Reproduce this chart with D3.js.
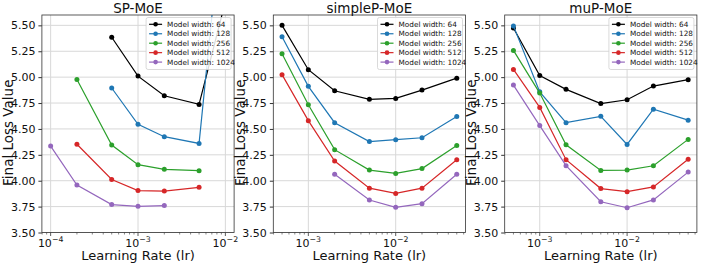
<!DOCTYPE html>
<html>
<head>
<meta charset="utf-8">
<script src="https://cdn.jsdelivr.net/npm/d3@7"></script>
<style>
  body { margin: 0; background: #fff; }
  text { font-family: "DejaVu Sans", sans-serif; }
</style>
</head>
<body>
<script>
const width = 718;
const height = 264;

// data
const widthLabels = ["Model width: 64", "Model width: 128", "Model width: 256", "Model width: 512", "Model width: 1024"];
const colors = ["#000000", "#1f77b4", "#2ca02c", "#d62728", "#9467bd"];
const titles = ["SP-MoE", "simpleP-MoE", "muP-MoE"];
const yTicks = [3.5, 3.75, 4.0, 4.25, 4.5, 4.75, 5.0, 5.25, 5.5];

// SP-MoE
const spLr64 = [5e-4, 1e-3, 2e-3, 5e-3, 1e-2];
const spLr256 = [2e-4, 5e-4, 1e-3, 2e-3, 5e-3];
const spLr1024 = [1e-4, 2e-4, 5e-4, 1e-3, 2e-3];
const sp64 = [5.385, 5.01, 4.82, 4.737, 5.73];
const sp128 = [4.895, 4.545, 4.425, 4.36, 6.88];
const sp256 = [4.978, 4.345, 4.155, 4.11, 4.097];
const sp512 = [4.352, 4.012, 3.905, 3.9, 3.936];
const sp1024 = [4.334, 3.958, 3.77, 3.753, 3.76];

// simpleP-MoE / muP-MoE share the learning rates
const lrFull = [5e-4, 1e-3, 2e-3, 5e-3, 1e-2, 2e-2, 5e-2];
const lrFrom2e3 = [2e-3, 5e-3, 1e-2, 2e-2, 5e-2];
const simple64 = [5.50, 5.072, 4.869, 4.786, 4.795, 4.875, 4.99];
const simple128 = [5.39, 4.911, 4.56, 4.378, 4.396, 4.415, 4.621];
const simple256 = [5.226, 4.734, 4.30, 4.103, 4.07, 4.117, 4.341];
const simple512 = [5.024, 4.58, 4.19, 3.928, 3.877, 3.928, 4.202];
const simple1024 = [4.062, 3.814, 3.743, 3.778, 4.062];

const mup64 = [5.474, 5.015, 4.882, 4.745, 4.782, 4.914, 4.976];
const mup128 = [5.495, 4.858, 4.56, 4.622, 4.35, 4.69, 4.585];
const mup256 = [5.258, 4.846, 4.347, 4.099, 4.103, 4.144, 4.399];
const mup512 = [5.075, 4.708, 4.203, 3.924, 3.894, 3.94, 4.208];
const mup1024 = [4.923, 4.532, 4.145, 3.797, 3.739, 3.815, 4.083];

function zipSeries(xs, ys) { return xs.map((x, i) => ({ x: x, y: ys[i] })); }

const panels = [
  { title: titles[0], xDomain: [1e-4, 1e-2], decades: [-4, -3, -2],
    series: [zipSeries(spLr64, sp64), zipSeries(spLr64, sp128), zipSeries(spLr256, sp256),
             zipSeries(spLr256, sp512), zipSeries(spLr1024, sp1024)] },
  { title: titles[1], xDomain: [5e-4, 5e-2], decades: [-3, -2],
    series: [zipSeries(lrFull, simple64), zipSeries(lrFull, simple128), zipSeries(lrFull, simple256),
             zipSeries(lrFull, simple512), zipSeries(lrFrom2e3, simple1024)] },
  { title: titles[2], xDomain: [5e-4, 5e-2], decades: [-3, -2],
    series: [zipSeries(lrFull, mup64), zipSeries(lrFull, mup128), zipSeries(lrFull, mup256),
             zipSeries(lrFull, mup512), zipSeries(lrFull, mup1024)] }
];

const plotTop = 15;
const plotBottom = 232.5;
const plotWidth = 192.2;
const firstLeft = 41.9;
const step = 231.4;

let svg = d3.select("body").append("svg")
    .attr("width", width)
    .attr("height", height);

panels.forEach((p, pi) => {
    const left = firstLeft + pi * step;
    const right = left + plotWidth;

    // 5% log margin like matplotlib
    const l0 = Math.log10(p.xDomain[0]), l1 = Math.log10(p.xDomain[1]);
    const pad = (l1 - l0) * 0.05;
    let xScale = d3.scaleLog()
        .domain([Math.pow(10, l0 - pad), Math.pow(10, l1 + pad)])
        .range([left, right]);
    let yScale = d3.scaleLinear()
        .domain([3.5, 5.6])
        .range([plotBottom, plotTop]);

    let g = svg.append("g");

    // grid
    g.selectAll(".ygrid").data(yTicks).enter().append("line")
        .attr("x1", left).attr("x2", right)
        .attr("y1", d => yScale(d)).attr("y2", d => yScale(d))
        .attr("stroke", "#d8d8d8").attr("stroke-width", 1);
    g.selectAll(".xgrid").data(p.decades).enter().append("line")
        .attr("x1", d => xScale(Math.pow(10, d))).attr("x2", d => xScale(Math.pow(10, d)))
        .attr("y1", plotTop).attr("y2", plotBottom)
        .attr("stroke", "#d8d8d8").attr("stroke-width", 1);

    // y label
    g.append("text")
        .attr("transform", `translate(${left - 28.5},${(plotTop + plotBottom) / 2 + 9}) rotate(-90)`)
        .attr("text-anchor", "middle")
        .style("font-size", "13.5px")
        .attr("fill", "#111")
        .text("Final Loss Value");

    // clip
    const clipId = "clip" + pi;
    svg.append("clipPath").attr("id", clipId)
        .append("rect")
        .attr("x", left).attr("y", plotTop)
        .attr("width", plotWidth).attr("height", plotBottom - plotTop);

    let lines = g.append("g").attr("clip-path", `url(#${clipId})`);
    let line = d3.line().x(d => xScale(d.x)).y(d => yScale(d.y));

    p.series.forEach((s, si) => {
        lines.append("path")
            .datum(s)
            .attr("d", line)
            .attr("fill", "none")
            .attr("stroke", colors[si])
            .attr("stroke-width", 1.2);
        lines.selectAll(".pt" + si).data(s).enter().append("circle")
            .attr("cx", d => xScale(d.x))
            .attr("cy", d => yScale(d.y))
            .attr("r", 2.5)
            .attr("fill", colors[si]);
    });

    // y axis
    let yAxis = g.append("g")
        .attr("transform", `translate(${left},0)`)
        .call(d3.axisLeft(yScale).tickValues(yTicks).tickFormat(d3.format(".2f"))
            .tickSize(3.5).tickPadding(3));
    yAxis.select(".domain").remove();
    yAxis.selectAll("text").style("font-size", "11px").attr("fill", "#111");
    yAxis.selectAll("line").attr("stroke", "#333");

    // x axis: majors at decades, minors in between
    const minors = [];
    const lo = Math.floor(Math.log10(xScale.domain()[0]));
    const hi = Math.ceil(Math.log10(xScale.domain()[1]));
    for (let e = lo; e < hi; e++) {
        for (let m = 2; m < 10; m++) {
            const v = m * Math.pow(10, e);
            if (v >= xScale.domain()[0] && v <= xScale.domain()[1]) minors.push(v);
        }
    }
    let xAxis = g.append("g").attr("transform", `translate(0,${plotBottom})`);
    xAxis.selectAll(".minor").data(minors).enter().append("line")
        .attr("x1", d => xScale(d)).attr("x2", d => xScale(d))
        .attr("y1", 0).attr("y2", 2)
        .attr("stroke", "#333").attr("stroke-width", 0.6);
    xAxis.selectAll(".major").data(p.decades).enter().append("line")
        .attr("x1", d => xScale(Math.pow(10, d))).attr("x2", d => xScale(Math.pow(10, d)))
        .attr("y1", 0).attr("y2", 3.5)
        .attr("stroke", "#333").attr("stroke-width", 0.8);
    let lab = xAxis.selectAll(".xlab").data(p.decades).enter().append("text")
        .attr("x", d => xScale(Math.pow(10, d)))
        .attr("y", 14)
        .attr("text-anchor", "middle")
        .attr("fill", "#111")
        .style("font-size", "11px");
    lab.append("tspan").text("10");
    lab.append("tspan").attr("dy", -4.5).style("font-size", "7.8px").text(d => "\u2212" + Math.abs(d));

    // frame
    g.append("rect")
        .attr("x", left).attr("y", plotTop)
        .attr("width", plotWidth).attr("height", plotBottom - plotTop)
        .attr("fill", "none").attr("stroke", "#333").attr("stroke-width", 0.8);

    // title and x label
    g.append("text")
        .attr("x", (left + right) / 2).attr("y", 12.5)
        .attr("text-anchor", "middle")
        .style("font-size", "13.5px")
        .attr("fill", "#111")
        .text(p.title);
    g.append("text")
        .attr("x", (left + right) / 2).attr("y", 260)
        .attr("text-anchor", "middle")
        .style("font-size", "13px")
        .attr("fill", "#111")
        .text("Learning Rate (lr)");

    // legend
    const legW = 85, legH = 52;
    const legX = right - 3 - legW, legY = plotTop + 2.5;
    let leg = g.append("g").attr("transform", `translate(${legX},${legY})`);
    leg.append("rect")
        .attr("width", legW).attr("height", legH)
        .attr("rx", 2)
        .attr("fill", "#fff").attr("fill-opacity", 0.85)
        .attr("stroke", "#d0d0d0").attr("stroke-width", 0.8);
    widthLabels.forEach((t, i) => {
        const cy = 6.8 + i * 9.45;
        leg.append("line")
            .attr("x1", 3).attr("x2", 16).attr("y1", cy).attr("y2", cy)
            .attr("stroke", colors[i]).attr("stroke-width", 1.2);
        leg.append("circle").attr("cx", 9.5).attr("cy", cy).attr("r", 2.3).attr("fill", colors[i]);
        leg.append("text")
            .attr("x", 21).attr("y", cy + 2.5)
            .style("font-size", "7.3px")
            .attr("fill", "#111")
            .text(t);
    });
});
</script>
</body>
</html>
